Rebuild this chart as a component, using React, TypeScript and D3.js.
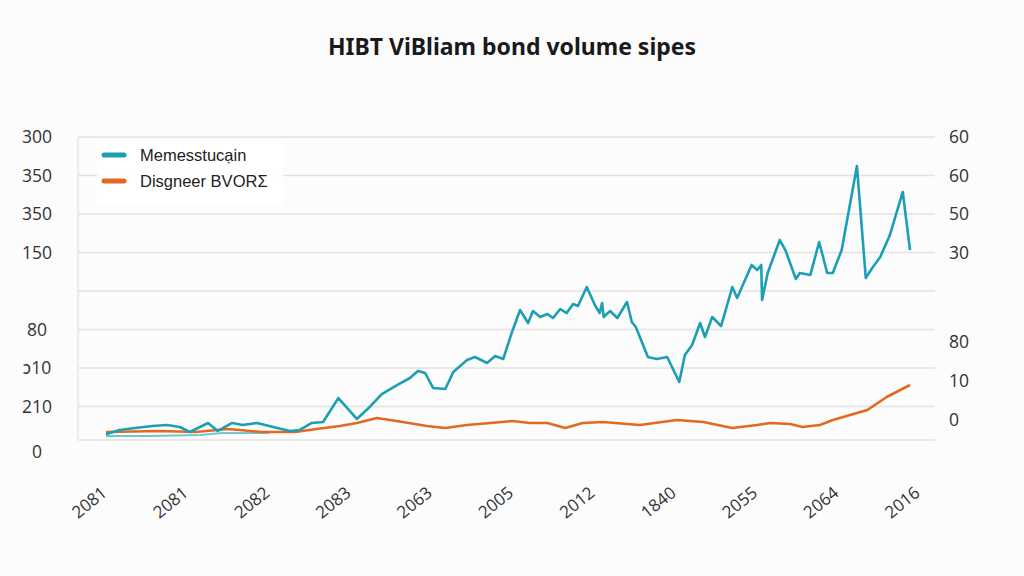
import React from "react";
import * as d3 from "d3";

const title = "HIBT ViBliam bond volume sipes";
const seriesNames = ["Memesstucạin", "Disgneer BVORΣ"];
const xLabels = ["2081", "2081", "2082", "2083", "2063", "2005", "2012", "1840", "2055", "2064", "2016"];

// time (0..100) and volume pairs
const tealT = [0, 1.7, 3.6, 5.8, 7.6, 9.2, 10.4, 12.7, 13.9, 15.7, 17, 18.8, 21.3, 22.9, 24.1, 25.6, 27, 28.9, 31.2, 32.8, 34.3, 36.2, 37.8, 38.8, 39.7, 40.7, 42.2, 43.2, 44.9, 45.9, 47.4, 48.4, 49.4, 50.5, 51.5, 52.5, 53.1, 54, 54.9, 55.6, 56.5, 57.3, 58.1, 58.7, 59.8, 60.8, 61.4, 61.7, 61.9, 62.7, 63.6, 64.8, 65.4, 65.9, 67.4, 68.5, 69.8, 71.3, 72, 72.9, 73.9, 74.5, 75.4, 76.5, 77.9, 78.5, 80.3, 81, 81.5, 81.6, 82.3, 83.8, 84.5, 85.8, 86.3, 87.6, 88.7, 89.7, 90.4, 91.5, 93.4, 94.5, 95.3, 96.3, 97.5, 99.1, 100];
const tealV = [14, 19.5, 22, 24.7, 26, 23.4, 16.9, 28.6, 18.2, 28.6, 26, 28.6, 22, 18.2, 19.5, 28.6, 29.9, 61, 33.8, 49.4, 66.2, 77.9, 87, 96.1, 93.5, 74, 72.7, 94.8, 110.4, 114.3, 106.5, 115.6, 111.7, 146.8, 175.3, 158.4, 174, 166.2, 170.1, 164.9, 176.6, 171.4, 183.1, 180.5, 205.2, 181.8, 171.4, 184.4, 166.2, 174, 164.9, 185.7, 159.7, 153.2, 114.3, 111.7, 114.3, 81.8, 116.9, 129.9, 158.4, 140.3, 166.2, 154.5, 205.2, 190.9, 233.8, 227.3, 233.8, 188.3, 223.4, 266.2, 253.2, 215.6, 223.4, 220.8, 263.6, 223.4, 223.4, 253.2, 362.3, 216.9, 229.9, 244.2, 272.7, 328.6, 253.2];

const tealShadowT = [0, 5.5, 11.7, 14.5, 17.9, 20.3];
const tealShadowV = [11.7, 11.7, 13, 15.6, 15.6, 15.6];

const orangeT = [0, 6.7, 11.1, 15.2, 19.4, 23.5, 26.2, 29.1, 31.2, 33.7, 36.9, 39.9, 42.2, 44.9, 47.8, 50.6, 52.7, 54.9, 57.1, 59.3, 61.8, 66.4, 71, 74.3, 77.9, 81, 82.6, 85.1, 86.6, 88.8, 90.4, 94.7, 97.1, 100];
const orangeV = [16.9, 18.2, 16.9, 20.8, 16.9, 16.9, 20.8, 24.7, 28.6, 35.1, 29.9, 24.7, 22.1, 26, 28.6, 31.2, 28.6, 28.6, 22.1, 28.6, 29.9, 26, 32.5, 29.9, 22.1, 26, 28.6, 27.3, 23.4, 26, 32.5, 45.5, 62.3, 77.9];

const gridValues = [50, 100, 150, 200, 250, 300, 350, 400];
const leftTickValues = [400, 350, 300, 250, 150, 100, 50, -9];
const leftTickLabels = ["300", "350", "350", "150", "80", "ɔ10", "210", "0"];
const rightTickValues = [400, 350, 300, 250, 134, 83, 32];
const rightTickLabels = ["60", "60", "50", "30", "80", "10", "0"];

const W = 1024, H = 576;
const TEAL = "#1c9fb4";
const ORANGE = "#e2691f";
const FONT = "'Open Sans', 'Noto Sans', sans-serif";

export default function App() {
  const x = d3.scaleLinear().domain([0, 100]).range([106, 910]);
  const y = d3.scaleLinear().domain([0, 400]).range([445, 137]);
  const xl = d3.scalePoint<number>().domain(xLabels.map((_, i) => i)).range([93, 906]);
  const line = d3.line<[number, number]>().x(d => x(d[0])).y(d => y(d[1]));
  const teal = tealT.map((t, i) => [t, tealV[i]] as [number, number]);
  const tealShadow = tealShadowT.map((t, i) => [t, tealShadowV[i]] as [number, number]);
  const orange = orangeT.map((t, i) => [t, orangeV[i]] as [number, number]);
  const plotL = 78, plotR = 935, plotB = 440;

  return (
    <div style={{ position: "fixed", left: 0, top: 0 }}>
      <svg width={W} height={H} style={{ display: "block", background: "#fcfcfc" }} fontFamily={FONT}>
        <rect width={W} height={H} fill="#fcfcfc" />
        <text x={512} y={55} textAnchor="middle" fontSize={23} fontWeight={700} fill="#1a1a1a" fontFamily="'Noto Sans', 'Open Sans', sans-serif">{title}</text>
        {gridValues.map(v => (
          <line key={v} x1={plotL} x2={plotR} y1={y(v)} y2={y(v)} stroke="#e2e2e2" strokeWidth={1.3} />
        ))}
        <line x1={plotL} x2={plotR} y1={plotB} y2={plotB} stroke="#e2e2e2" strokeWidth={1.3} />
        <line x1={plotL} x2={plotL} y1={y(400)} y2={plotB} stroke="#e2e2e2" strokeWidth={1.3} />
        {leftTickValues.map((v, i) => (
          <text key={i} x={37} y={y(v)} dy="0.35em" textAnchor="middle" fontSize={17.5} fill="#333">{leftTickLabels[i]}</text>
        ))}
        {rightTickValues.map((v, i) => (
          <text key={i} x={949} y={y(v)} dy="0.35em" textAnchor="start" fontSize={17.5} fill="#333">{rightTickLabels[i]}</text>
        ))}
        {xLabels.map((l, i) => (
          <text key={i} transform={`translate(${xl(i)},${507}) rotate(-39)`} textAnchor="middle" fontSize={17} fill="#333">{l}</text>
        ))}
        <path d={line(tealShadow) || ""} fill="none" stroke={TEAL} strokeOpacity={0.6} strokeWidth={2} />
        <path d={line(orange) || ""} fill="none" stroke={ORANGE} strokeWidth={2.6} strokeLinejoin="round" />
        <path d={line(teal) || ""} fill="none" stroke={TEAL} strokeWidth={2.6} strokeLinejoin="round" />
        <rect x={97} y={141} width={186} height={64} fill="#ffffff" fillOpacity={0.9} />
        {seriesNames.map((n, i) => (
          <g key={i} transform={`translate(0,${155 + i * 26})`}>
            <line x1={104} x2={124} y1={0} y2={0} stroke={i === 0 ? TEAL : ORANGE} strokeWidth={5} strokeLinecap="round" />
            <text x={140} y={0} dy="0.35em" fontSize={16.5} fill="#222" fontFamily="'Liberation Sans', Arial, sans-serif">{n}</text>
          </g>
        ))}
      </svg>
    </div>
  );
}
